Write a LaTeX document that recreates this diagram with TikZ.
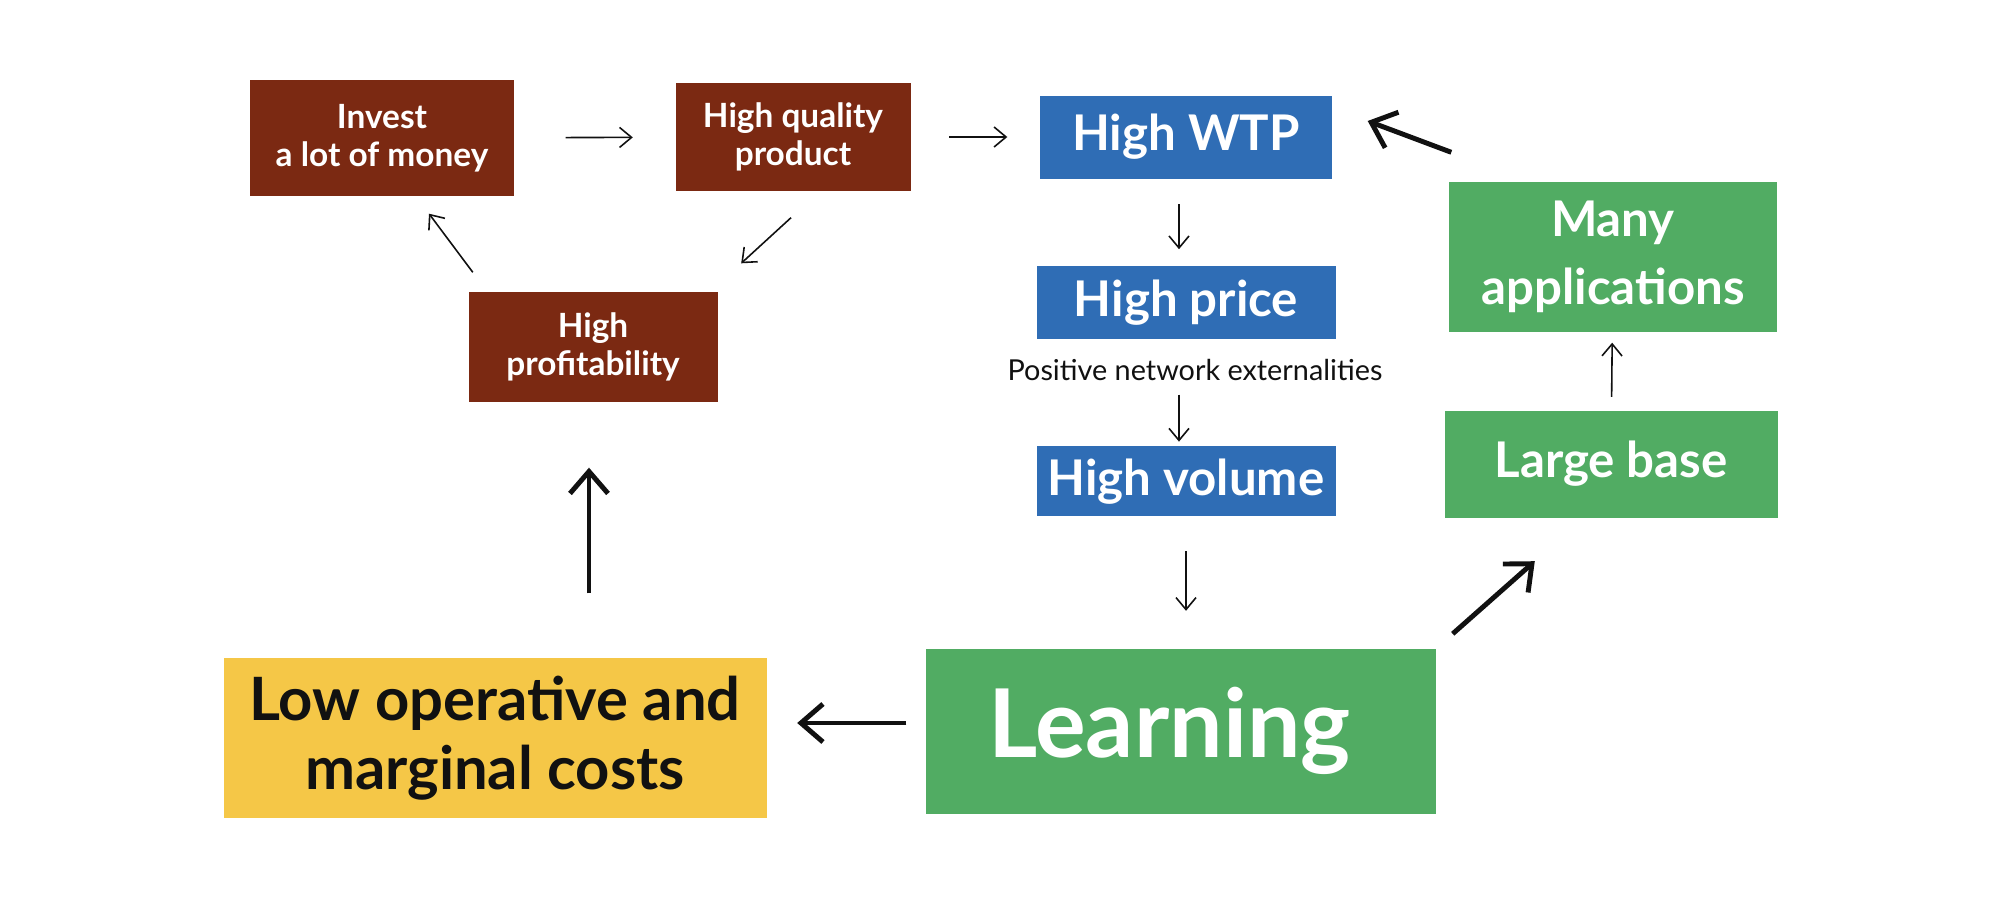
\documentclass[tikz,border=0pt]{standalone}
\usepackage{fontspec}
\setmainfont{Lato}
\usepackage{xcolor}
\usetikzlibrary{positioning, arrows.meta, calc}
\definecolor{brownc}{HTML}{7B2912}
\definecolor{bluec}{HTML}{2F6DB5}
\definecolor{greenc}{HTML}{51AC63}
\definecolor{yellowc}{HTML}{F5C747}
\definecolor{ink}{HTML}{111111}
\newcommand{\fsz}[1]{\fontsize{#1}{1.15\dimexpr#1pt\relax}\selectfont}

\begin{document}
\begin{tikzpicture}[
  x=0.1mm, y=-0.1mm,
  box/.style={inner sep=2pt, align=center, text=white, font=\bfseries},
  loopbox/.style={box, fill=brownc, font=\bfseries\fsz{9.5}},
  wtpbox/.style={box, fill=bluec, font=\bfseries\fsz{14}},
  netbox/.style={box, fill=greenc, font=\bfseries\fsz{14}},
  tarr/.style={-{Straight Barb[length=1.2mm, width=2mm]}, line width=0.45pt, draw=ink},
  karr/.style={-{Straight Barb[length=2.2mm, width=3.8mm]}, line width=1.4pt, draw=ink},
]
\fill[white] (0,0) rectangle (2000,897);
\useasboundingbox (0,0) rectangle (2000,897);

% ---------------- investment loop (top left) ----------------
\node[loopbox, minimum width=26.4mm, minimum height=11.6mm] (invest) at (382,138) {Invest\\a lot of money};
\node[loopbox, minimum width=23.5mm, minimum height=10.8mm] (quality) at (793,137) {High quality\\product};
\node[loopbox, minimum width=24.9mm, minimum height=11mm] (profit) at (593,347) {High\\profitability};

\draw[tarr, shorten <=5.1mm, shorten >=4.2mm] (invest) -- (quality);
\draw[tarr] ([shift={(-2,26)}]quality.south) -- ([shift={(23,-28)}]profit.north east);
\draw[tarr] ([shift={(5,-19)}]profit.north west) -- ([shift={(47,17)}]invest.south);

% ---------------- WTP column ----------------
\node[wtpbox, minimum width=29.2mm, minimum height=8.3mm] (wtp) at (1186,137) {High WTP};
\node[wtpbox, minimum width=29.9mm, minimum height=7.3mm, below=8.6mm of wtp] (price) {High price};
\node[font=\fsz{8.2}, text=ink, inner sep=1pt] (pne) at (1195,370) {Positive network externalities};
\node[wtpbox, minimum width=29.9mm, minimum height=7mm, below=10.6mm of price] (volume) {High volume};

\draw[tarr, shorten <=3.8mm, shorten >=3.2mm] (quality) -- (wtp);
\draw[tarr, shorten <=2.5mm, shorten >=1.6mm] ([xshift=-0.7mm]wtp.south) -- ([xshift=-0.7mm]price.north);
\draw[tarr, shorten <=5.5mm, shorten >=0.4mm] ([xshift=-0.7mm]price.south) -- ([xshift=-0.7mm]volume.north);

% ---------------- Learning and costs ----------------
\node[netbox, font=\bfseries\fsz{27}, minimum width=51mm, minimum height=16.5mm] (learn) at (1181,731) {Learning\hspace{2.3mm}};
\node[box, fill=yellowc, text=ink, font=\bfseries\fsz{17}, minimum width=54.3mm, minimum height=16mm] (costs) at (495,738) {Low operative and\\marginal costs};

\draw[tarr, shorten <=3.4mm, shorten >=3.7mm] (volume) -- (volume |- learn.north);
\draw[karr, shorten <=1.9mm, shorten >=3mm] ([yshift=0.8mm]learn.west) -- ([yshift=0.8mm]learn.west -| costs.east);
\draw[karr, shorten <=6.4mm, shorten >=6.5mm] ([xshift=-0.4mm]costs.north -| profit) -- ([xshift=-0.4mm]profit.south);

% ---------------- network side (right) ----------------
\node[netbox, minimum width=33.3mm, minimum height=10.7mm] (base) at (1611,464) {Large base};
\node[netbox, font=\bfseries\fontsize{14}{19.5}\selectfont, minimum width=32.8mm, minimum height=15mm] (apps) at (1613,257) {Many\\applications};

\draw[karr] ([shift={(16,-14)}]learn.north east) -- ([shift={(91,43)}]base.south west);
\draw[tarr, shorten <=1.3mm, shorten >=1mm] (base) -- (apps);
\draw[karr] ([shift={(3,-29)}]apps.north west) -- ([shift={(35,-16)}]wtp.east);

\end{tikzpicture}
\end{document}
